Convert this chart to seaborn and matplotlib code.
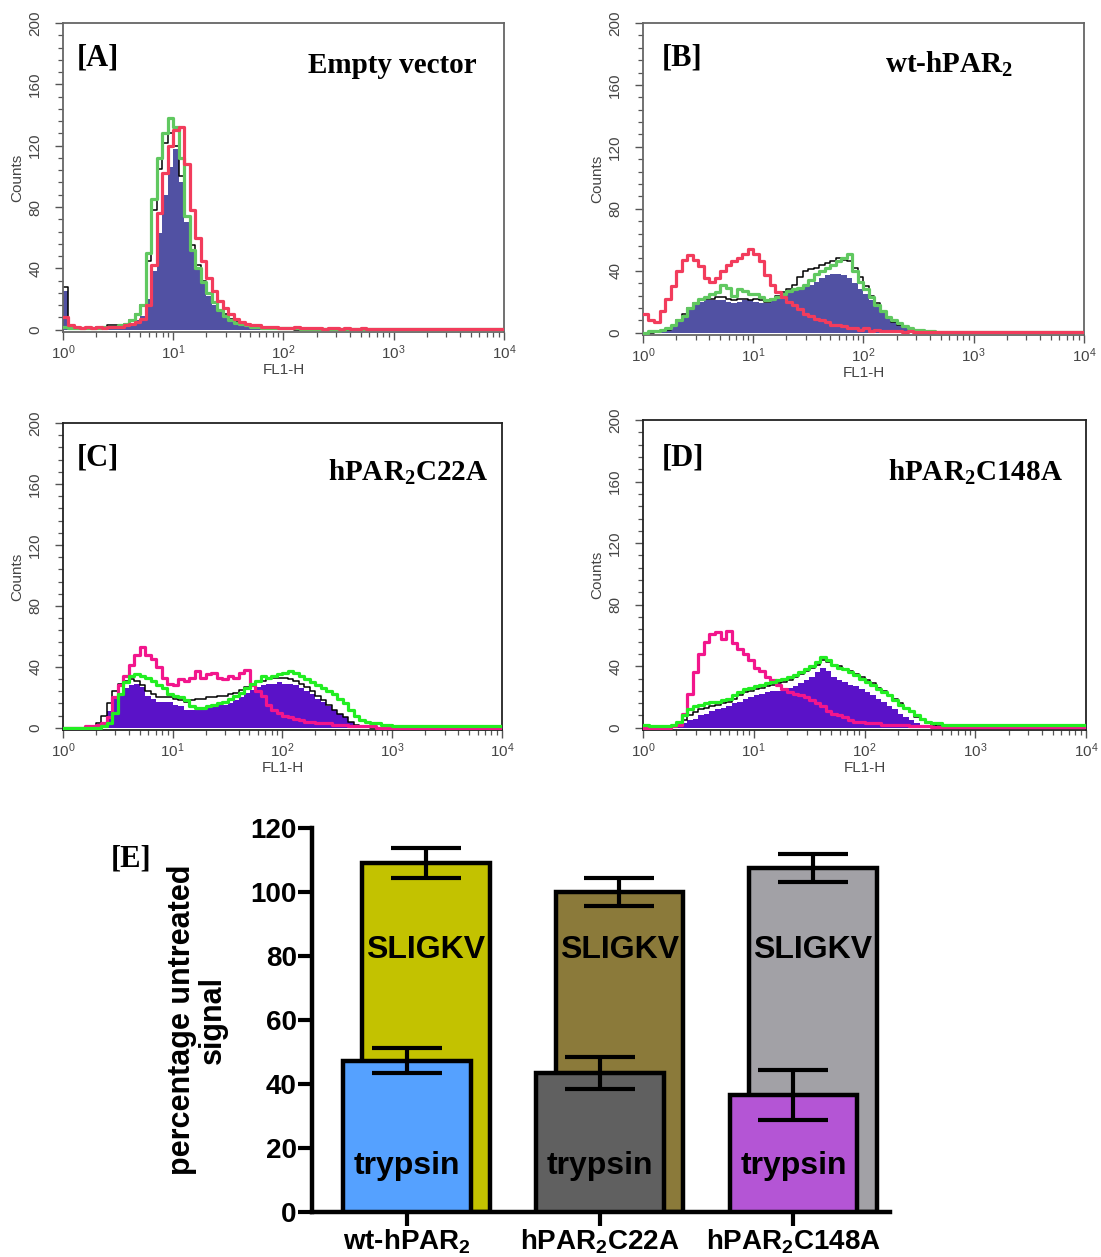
import numpy as np
import pandas as pd
import matplotlib
matplotlib.use("Agg")
import matplotlib.pyplot as plt
import seaborn as sns
from matplotlib.ticker import MultipleLocator, LogLocator, NullFormatter

sns.set_style("ticks")
plt.rcParams["font.family"] = ["Liberation Sans", "DejaVu Sans"]
plt.rcParams["text.color"] = "black"
plt.rcParams["axes.labelcolor"] = "black"
plt.rcParams["xtick.color"] = "black"
plt.rcParams["ytick.color"] = "black"
plt.rcParams["mathtext.fontset"] = "custom"
plt.rcParams["mathtext.rm"] = "Liberation Serif:bold"
plt.rcParams["mathtext.sf"] = "Liberation Sans:bold"

# ---- flow cytometry histograms (counts per FL1-H channel) ----
# bins are 0.05 decade wide from 10^0 to 10^3, the last value is the flat tail up to 10^4
A_FILL = [25, 1, 1, 1, 1, 1, 1, 2, 2, 2,
          2, 3, 4, 6, 9, 20, 38, 63, 88, 106,
          118, 96, 70, 52, 40, 30, 22, 16, 12, 9,
          6, 4, 3, 2, 2, 1, 1, 1, 1, 1,
          0, 0, 0, 0, 0, 0, 0, 0, 0, 0,
          0, 0, 0, 0, 0, 0, 0, 0, 0, 0,
          0]
A_BLACK = [28, 1, 1, 1, 1, 1, 2, 2, 3, 3,
           3, 4, 6, 10, 16, 45, 78, 105, 122, 128,
           120, 100, 74, 55, 42, 32, 24, 18, 13, 10,
           7, 5, 4, 3, 2, 2, 2, 2, 1, 1,
           1, 1, 0, 1, 0, 0, 1, 0, 0, 0,
           0, 0, 0, 0, 0, 0, 0, 0, 0, 0,
           0]
A_GREEN = [2, 1, 1, 1, 1, 1, 1, 2, 2, 2,
           3, 4, 6, 10, 16, 50, 85, 112, 128, 138,
           132, 112, 74, 52, 40, 31, 24, 18, 13, 9,
           6, 4.5, 3.5, 3, 2, 2, 1, 1, 1, 1,
           1, 1, 1, 0.5, 0.5, 0.5, 0.5, 0.5, 0.5, 0.5,
           0.5, 0.5, 0.5, 0.5, 0.5, 0.5, 0.5, 0.5, 0.5, 0.5,
           0.5]
A_RED = [8, 3, 2, 1, 2, 1, 2, 1, 2, 2,
         2, 3, 4, 5, 7, 16, 42, 76, 102, 120,
         130, 132, 108, 78, 60, 45, 34, 25, 19, 14,
         10, 7, 5, 4, 3, 3, 2, 2, 2, 1,
         1, 1, 2, 1, 1, 1, 1, 0.5, 1, 1,
         0.5, 1, 0.5, 0.5, 1, 0.5, 0.5, 0.5, 0.5, 0.5,
         0.5]

B_FILL = [0, 0, 0, 1, 2, 4, 7, 11, 15, 18,
          20, 21, 21, 21, 21, 20, 19, 20, 21, 21,
          20, 19, 19, 21, 23, 25, 26, 27, 28, 30,
          31, 33, 35, 37, 38, 38, 37, 35, 32, 28,
          25, 21, 18, 14, 11, 9, 7, 4, 3, 2,
          1.5, 1, 0.5, 0, 0, 0, 0, 0, 0, 0,
          0]
B_BLACK = [0, 0, 1, 1, 2, 4, 8, 12, 16, 19,
           21, 22, 22, 23, 23, 22, 21, 22, 22, 21,
           22, 21, 20, 22, 24, 26, 28, 31, 36, 40,
           41, 42, 44, 45, 46, 48, 47, 46, 42, 36,
           30, 24, 19, 14, 10, 7, 5, 4, 3, 2,
           1, 1, 0.5, 0.5, 0, 0, 0, 0, 0, 0,
           0]
B_GREEN = [0, 1, 1, 2, 3, 5, 8, 11, 16, 19,
           22, 23, 25, 26, 31, 29, 24, 28, 27, 25,
           25, 23, 21, 22, 23, 25, 27, 28, 29, 31,
           34, 38, 40, 42, 44, 46, 48, 51, 40, 33,
           28, 23, 18, 14, 10, 8, 6, 4, 3, 2,
           2, 1, 1, 0.5, 0.5, 0.5, 0.5, 0.5, 0.5, 0.5,
           0.5]
B_RED = [12, 8, 7, 14, 22, 30, 40, 47, 50, 47,
         43, 35, 33, 35, 40, 44, 46, 48, 51, 54,
         51, 46, 37, 31, 26, 23, 20, 18, 15, 12,
         11, 9, 8, 7, 5, 5, 4, 3, 3, 2,
         3, 1, 2, 1, 1, 1, 1, 0.5, 1, 0.5,
         0.5, 0.5, 0.5, 0.5, 0.5, 0.5, 0.5, 0.5, 0.5, 0.5,
         0.5]

C_FILL = [0, 0, 0, 0, 0, 0, 1, 4, 11, 19,
          23, 26, 28, 29, 27, 21, 19, 17, 17, 17,
          15, 14, 12, 12, 12, 12, 13, 14, 15, 15,
          16, 18, 20, 23, 25, 27, 28, 29, 29, 30,
          29, 29, 28, 26, 24, 22, 19, 17, 14, 12,
          9, 7, 4, 2, 1, 0, 0, 0, 0, 0,
          0]
C_BLACK = [0, 0, 0, 0, 0, 1, 3, 8, 16, 24,
           29, 31, 32, 31, 28, 24, 22, 20, 20, 20,
           19, 18, 17, 18, 19, 19, 20, 20, 21, 21,
           22, 23, 25, 27, 29, 30, 31, 32, 33, 33,
           33, 32, 31, 29, 27, 24, 21, 18, 15, 12,
           9, 7, 4, 2, 1, 0.5, 0, 0, 0, 0,
           0]
C_GREEN = [0, 0, 0, 0, 0, 0, 0, 1, 3, 10,
           22, 30, 34, 35, 34, 33, 31, 28, 26, 22,
           21, 20, 18, 14, 13, 13, 14, 15, 16, 17,
           19, 21, 23, 26, 29, 31, 34, 33, 34, 35,
           36, 37, 36, 34, 32, 30, 28, 26, 24, 22,
           19, 16, 12, 8, 5, 4, 3, 3, 2, 2,
           1]
C_RED = [0, 0, 0, 0, 1, 1, 2, 3, 7, 20,
         28, 34, 41, 48, 53, 48, 45, 40, 33, 29,
         28, 32, 31, 33, 37, 33, 35, 36, 33, 32,
         34, 33, 36, 38, 28, 24, 21, 15, 12, 10,
         8, 7, 6, 5, 4, 4, 3, 3, 3, 2,
         2, 2, 1, 1, 1, 1, 1, 0, 0, 0,
         0]

D_FILL = [0, 0, 0, 0, 0, 0, 1, 3, 5, 6,
          8, 9, 11, 12, 13, 14, 16, 17, 19, 20,
          21, 22, 23, 24, 24, 25, 26, 27, 29, 31,
          33, 36, 39, 37, 33, 31, 30, 28, 27, 25,
          23, 21, 19, 17, 14, 12, 9, 7, 5, 3,
          2, 1, 0, 0, 0, 0, 0, 0, 0, 0,
          0]
D_BLACK = [0, 0, 0, 0, 0, 1, 2, 5, 8, 10,
           12, 13, 14, 15, 16, 17, 19, 21, 23, 24,
           25, 26, 27, 28, 29, 30, 31, 33, 35, 37,
           39, 41, 44, 43, 41, 40, 38, 37, 35, 33,
           31, 29, 26, 24, 21, 19, 16, 13, 10, 7,
           5, 3, 2, 1, 0.5, 0.5, 0, 0, 0, 0,
           0]
D_GREEN = [2, 1, 1, 1, 1, 2, 4, 8, 12, 14,
           15, 16, 17, 17, 18, 19, 21, 23, 25, 26,
           27, 28, 29, 30, 31, 32, 33, 34, 36, 38,
           40, 43, 46, 44, 41, 39, 38, 36, 34, 32,
           30, 28, 25, 23, 21, 18, 15, 13, 11, 8,
           6, 4, 3, 3, 2, 2, 2, 2, 2, 2,
           1.5]
D_RED = [0, 0, 0, 0, 0, 1, 2, 9, 22, 36,
         48, 56, 61, 62, 58, 63, 55, 51, 48, 44,
         39, 37, 33, 31, 28, 25, 23, 22, 21, 20,
         18, 16, 14, 11, 9, 8, 7, 5, 4, 4,
         3, 3, 3, 2, 2, 2, 2, 2, 1, 1,
         1, 1, 0.5, 0.5, 0.5, 0.5, 0.5, 0.5, 0.5, 0.5,
         0.5]

PANEL_TAGS = ["[A]", "[B]", "[C]", "[D]"]
PANEL_TITLES = ["Empty vector", "wt-hPAR$_2$", "hPAR$_2$C22A", "hPAR$_2$C148A"]
FLOW_DATA = [(A_FILL, A_BLACK, A_GREEN, A_RED),
             (B_FILL, B_BLACK, B_GREEN, B_RED),
             (C_FILL, C_BLACK, C_GREEN, C_RED),
             (D_FILL, D_BLACK, D_GREEN, D_RED)]

# ---- bar chart [E] ----
CONSTRUCTS = ["wt-hPAR2", "hPAR2C22A", "hPAR2C148A"]
CONSTRUCT_LABELS = ["wt-hPAR$_\\mathsf{2}$", "hPAR$_\\mathsf{2}$C22A", "hPAR$_\\mathsf{2}$C148A"]
SLIGKV_MEAN = [109, 100, 107.5]
SLIGKV_SEM = [4.7, 4.4, 4.5]
TRYPSIN_MEAN = [47.3, 43.4, 36.6]
TRYPSIN_SEM = [3.9, 5.0, 7.7]

# ---- styles / layout ----
FLOW_BOXES = [[0.0572, 0.7359, 0.4005, 0.2458],
              [0.5840, 0.7335, 0.4005, 0.2482],
              [0.0572, 0.4192, 0.3987, 0.2442],
              [0.5840, 0.4192, 0.4024, 0.2466]]
TAG_POS = [(0.032, 0.864), (0.043, 0.865), (0.032, 0.863), (0.043, 0.855)]
TITLE_POS = [(0.939, 0.838), (0.839, 0.843), (0.968, 0.814), (0.948, 0.806)]
FLOW_COLORS = [("#5151a3", "#60c860", "#f23c5c"),
               ("#5151a3", "#60c860", "#f23c5c"),
               ("#5a12c8", "#22ee22", "#f2168c"),
               ("#5a12c8", "#22ee22", "#f2168c")]
FRAME_COLORS = ["#666666", "#666666", "#222222", "#222222"]
GREEN_ON_TOP = [False, False, True, True]
SLIGKV_COLORS = ["#c3c200", "#8b7a3a", "#a2a1a6"]
TRYPSIN_COLORS = ["#55a1ff", "#606060", "#b455d5"]
TICK_GREY = "#444444"
BAR_FONT = ["Liberation Sans", "DejaVu Sans"]

bin_edges = np.append(np.round(np.arange(0, 3.001, 0.05), 2), 4.0)
x_edges = 10 ** bin_edges


def step_y(v):
    v = np.asarray(v, dtype=float)
    return np.append(v, v[-1])


fig = plt.figure(figsize=(11.01, 12.57), dpi=100)

for i, (fill, black, green, red) in enumerate(FLOW_DATA):
    ax = fig.add_axes(FLOW_BOXES[i])
    ax.set_xscale("log")
    fcol, gcol, rcol = FLOW_COLORS[i]

    ax.fill_between(x_edges, step_y(fill), step="post", color=fcol, lw=0, zorder=1)
    sns.lineplot(x=x_edges, y=step_y(black), drawstyle="steps-post", color="black",
                 lw=1.1, errorbar=None, ax=ax, zorder=2)
    line_order = [(rcol, red), (gcol, green)] if GREEN_ON_TOP[i] else [(gcol, green), (rcol, red)]
    for k, (col, vals) in enumerate(line_order):
        sns.lineplot(x=x_edges, y=step_y(vals), drawstyle="steps-post", color=col,
                     lw=2.3, errorbar=None, ax=ax, zorder=3 + k)

    ax.set_xlim(1, 1e4)
    ax.set_ylim(-1.5, 200)
    ax.set_yticks([0, 40, 80, 120, 160, 200])
    ax.yaxis.set_minor_locator(MultipleLocator(8))
    ax.xaxis.set_minor_locator(LogLocator(base=10, subs=np.arange(2, 10)))
    ax.xaxis.set_minor_formatter(NullFormatter())
    ax.tick_params(axis="both", which="major", length=6, width=1, color="#555555",
                   labelcolor=TICK_GREY, labelsize=11)
    ax.tick_params(axis="both", which="minor", length=3.5, width=0.9, color="#555555")
    ax.tick_params(axis="y", which="major", labelrotation=90, pad=9)
    ax.tick_params(axis="x", which="major", pad=2)
    for lbl in ax.get_yticklabels():
        lbl.set_va("center")
    ax.set_xlabel("FL1-H", fontsize=11, color=TICK_GREY, labelpad=1)
    ax.set_ylabel("Counts", fontsize=11, color=TICK_GREY, labelpad=3)
    for sp in ax.spines.values():
        sp.set_color(FRAME_COLORS[i])
        sp.set_linewidth(1.3)

    ax.text(*TAG_POS[i], PANEL_TAGS[i], transform=ax.transAxes, ha="left", va="baseline",
            fontsize=22, fontweight="bold", family="Liberation Serif")
    ax.text(*TITLE_POS[i], PANEL_TITLES[i], transform=ax.transAxes, ha="right", va="baseline",
            fontsize=21, fontweight="bold", family="Liberation Serif")

# ---- panel E ----
ax_e = fig.add_axes([0.2834, 0.0358, 0.5250, 0.3055])
base = np.arange(len(CONSTRUCTS))
slig_pos = base + 0.1

df_slig = pd.DataFrame({"pos": slig_pos, "value": SLIGKV_MEAN, "construct": CONSTRUCTS})
df_tryp = pd.DataFrame({"pos": base, "value": TRYPSIN_MEAN, "construct": CONSTRUCTS})

sns.barplot(data=df_slig, x="pos", y="value", hue="construct",
            palette=dict(zip(CONSTRUCTS, SLIGKV_COLORS)), native_scale=True, dodge=False,
            width=0.66, saturation=1, edgecolor="black", linewidth=3.2, errorbar=None,
            legend=False, ax=ax_e, zorder=1)
ax_e.errorbar(slig_pos, SLIGKV_MEAN, yerr=SLIGKV_SEM, fmt="none", ecolor="black",
              elinewidth=3, capsize=25, capthick=3, zorder=2)
sns.barplot(data=df_tryp, x="pos", y="value", hue="construct",
            palette=dict(zip(CONSTRUCTS, TRYPSIN_COLORS)), native_scale=True, dodge=False,
            width=0.66, saturation=1, edgecolor="black", linewidth=3.2, errorbar=None,
            legend=False, ax=ax_e, zorder=3)
ax_e.errorbar(base, TRYPSIN_MEAN, yerr=TRYPSIN_SEM, fmt="none", ecolor="black",
              elinewidth=3, capsize=25, capthick=3, zorder=4)

for j in range(len(CONSTRUCTS)):
    ax_e.text(slig_pos[j], 82, "SLIGKV", ha="center", va="center", fontsize=23,
              fontweight="bold", family=BAR_FONT, color="black", zorder=5)
    ax_e.text(base[j], 14.5, "trypsin", ha="center", va="center", fontsize=23,
              fontweight="bold", family=BAR_FONT, color="black", zorder=5)

ax_e.set_xlim(-0.49, 2.5)
ax_e.set_ylim(0, 120)
ax_e.set_yticks(range(0, 121, 20))
ax_e.set_xticks(base)
ax_e.set_xticklabels(CONSTRUCT_LABELS)
ax_e.set_xlabel("")
ax_e.set_ylabel("percentage untreated\nsignal", fontsize=22, fontweight="bold",
                linespacing=1.05, color="black")
ax_e.yaxis.set_label_coords(-0.145, 0.5)
ax_e.tick_params(axis="both", length=10, width=3, color="black", pad=1)
for lbl in ax_e.get_yticklabels() + ax_e.get_xticklabels():
    lbl.set_fontfamily(BAR_FONT)
    lbl.set_fontweight("bold")
    lbl.set_fontsize(20)
    lbl.set_color("black")
sns.despine(ax=ax_e)
for side in ["left", "bottom"]:
    ax_e.spines[side].set_linewidth(3.2)
    ax_e.spines[side].set_color("black")

fig.text(131 / 1101, 1 - 859 / 1257, "[E]", ha="center", va="center", fontsize=22,
         fontweight="bold", family="Liberation Serif")

fig.savefig("out.png", dpi=100)
